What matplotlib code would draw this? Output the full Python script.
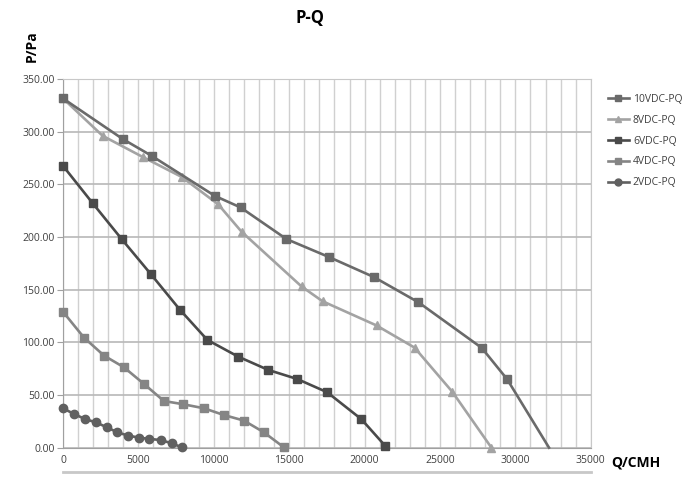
import matplotlib
matplotlib.use("Agg")
import matplotlib.pyplot as plt
from matplotlib.ticker import MultipleLocator, FormatStrFormatter
from matplotlib.lines import Line2D

plt.rcParams['font.family'] = ['Open Sans', 'DejaVu Sans']

# data (Q in CMH, P in Pa)
q_10v = [0, 3960, 5880, 10070, 11780, 14820, 17630, 20610, 23570, 27770, 29450, 32230]
p_10v = [331.5, 293, 277, 239, 228, 198, 181, 162, 138, 94.7, 65, 0]

q_8v = [0, 2630, 5280, 7870, 10290, 11840, 15820, 17210, 20790, 23310, 25820, 28410]
p_8v = [331.5, 296, 276, 257, 231, 205, 153, 139, 116, 95, 53, 0]

q_6v = [0, 1970, 3890, 5810, 7750, 9570, 11620, 13610, 15530, 17520, 19790, 21380]
p_6v = [267.5, 232, 198, 165, 131, 102.3, 86.4, 73.8, 65.2, 52.6, 27, 1.5]

q_4v = [0, 1390, 2720, 4040, 5370, 6690, 7980, 9350, 10670, 12000, 13320, 14650]
p_4v = [129, 104.5, 87.4, 76.3, 60.5, 44.3, 41.2, 37.4, 31, 25.7, 14.6, 0.3]

q_2v = [0, 730, 1460, 2190, 2900, 3600, 4330, 5060, 5720, 6470, 7200, 7870]
p_2v = [37.4, 32, 27.2, 24, 19.4, 14.6, 11.4, 9.5, 8.3, 7.3, 4.2, 0.4]

labels = ['10VDC-PQ', '8VDC-PQ', '6VDC-PQ', '4VDC-PQ', '2VDC-PQ']
colors = ['#6a6a6a', '#a3a3a3', '#4a4a4a', '#858585', '#606060']
markers = ['s', '^', 's', 's', 'o']

fig = plt.figure(figsize=(7.0, 4.82), dpi=100)
ax = fig.add_axes([0.09, 0.0712, 0.754, 0.765])

series = [(q_10v, p_10v), (q_8v, p_8v), (q_6v, p_6v), (q_4v, p_4v), (q_2v, p_2v)]
handles = []
for i, (q, p) in enumerate(series):
    # the 10VDC curve has no marker on its last point
    every = list(range(len(q) - 1)) if i == 0 else None
    ax.plot(q, p, color=colors[i], lw=1.9, marker=markers[i], ms=6,
            markevery=every, zorder=3 + (4 - i) * 0.1, clip_on=False)
    handles.append(Line2D([], [], color=colors[i], lw=1.9, marker=markers[i], ms=5))

ax.set_xlim(0, 35000)
ax.set_ylim(0, 350)
ax.xaxis.set_major_locator(MultipleLocator(5000))
ax.xaxis.set_minor_locator(MultipleLocator(1000))
ax.yaxis.set_major_locator(MultipleLocator(50))
ax.yaxis.set_major_formatter(FormatStrFormatter('%.2f'))

ax.grid(True, which='major', axis='y', color='#b8b8b8', lw=1.2)
ax.grid(True, which='both', axis='x', color='#d0d0d0', lw=1.0)
ax.set_axisbelow(True)

for s in ['top', 'right']:
    ax.spines[s].set_color('#c8c8c8')
ax.spines['left'].set_color('#a0a0a0')
ax.spines['bottom'].set_color('#a0a0a0')

ax.tick_params(axis='y', length=4, color='#a0a0a0', labelsize=7.5, labelcolor='#404040', pad=2)
ax.tick_params(axis='x', which='both', length=0, labelsize=7.5, labelcolor='#404040', pad=5)

fig.text(0.443, 0.963, 'P-Q', ha='center', va='center', fontsize=12, fontweight='bold')
fig.text(0.045, 0.905, 'P/Pa', ha='center', va='center', rotation=90, fontsize=10, fontweight='bold')
fig.text(0.873, 0.04, 'Q/CMH', ha='left', va='center', fontsize=10, fontweight='bold')

# gray rule under the x tick labels
fig.add_artist(Line2D([0.09, 0.844], [0.021, 0.021], color='#c8c8c8', lw=2.0))

fig.legend(handles, labels, loc='upper left', bbox_to_anchor=(0.855, 0.825),
           frameon=False, fontsize=7.5, handlelength=2.0, labelspacing=0.95,
           handletextpad=0.4, labelcolor='#404040')

fig.savefig('out.png', dpi=100)
